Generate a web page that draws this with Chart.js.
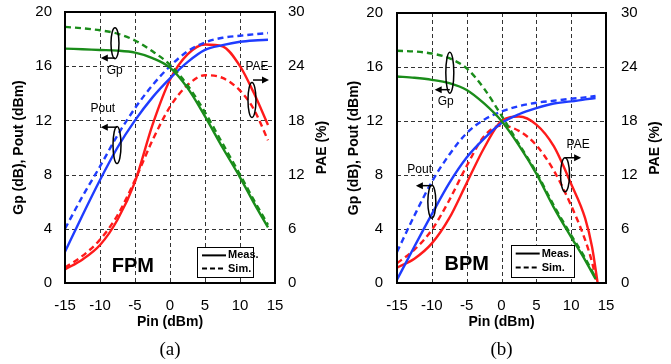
<!DOCTYPE html>
<html><head><meta charset="utf-8">
<script src="https://cdn.jsdelivr.net/npm/chart.js@4/dist/chart.umd.min.js"></script>
<style>
html,body{margin:0;padding:0;background:#fff;width:671px;height:364px;overflow:hidden}
#wa{position:absolute;left:0;top:0;width:335px;height:364px}
#wb{position:absolute;left:335px;top:0;width:336px;height:364px}
</style></head><body>
<div id="wa"><canvas id="ca" width="335" height="364"></canvas></div>
<div id="wb"><canvas id="cb" width="336" height="364"></canvas></div>
<script>
const FONT = "'Liberation Sans', Arial, Helvetica, sans-serif";
const NARROW = "'Liberation Sans Narrow', 'Arial Narrow', 'Liberation Sans', Arial, sans-serif";
const SERIF = "'Liberation Serif', 'Times New Roman', serif";
const GREEN = '#1a8c1a', BLUE = '#1f3cff', RED = '#ff1a1a';

// ---- Axis ticks ----
const pinTicks = [-15, -10, -5, 0, 5, 10, 15];
const leftTicks = [0, 4, 8, 12, 16, 20];
const rightTicks = [0, 6, 12, 18, 24, 30];

// ---- (a) FPM ----
const fpmPin     = [-15, -12.5, -10, -7.5, -5, -2.5, 0, 2.5, 5, 7.5, 10, 12, 14];
const fpmGpMeas  = [17.3, 17.25, 17.2, 17.15, 17.0, 16.6, 15.9, 14.4, 12.3, 10.0, 7.8, 5.9, 4.1];
const fpmGpSim   = [18.9, 18.8, 18.65, 18.4, 17.9, 17.1, 16.1, 14.6, 12.6, 10.3, 8.0, 6.1, 4.3];
const fpmPoutMeas= [2.3, 5.0, 7.6, 10.0, 12.0, 13.7, 15.1, 16.3, 17.2, 17.55, 17.8, 17.9, 17.95];
const fpmPoutSim = [4.0, 6.4, 8.6, 10.9, 12.9, 14.6, 16.0, 17.1, 17.75, 18.1, 18.25, 18.35, 18.45];
const fpmPaeMeas = [1.5, 2.6, 4.2, 7.0, 11.2, 17.5, 22.5, 25.3, 26.4, 26.2, 24.0, 21.0, 17.5];
const fpmPaeSim  = [1.7, 3.0, 4.8, 7.5, 11.4, 15.8, 19.5, 21.9, 23.0, 22.7, 21.3, 19.2, 15.8];

// ---- (b) BPM ----
const bpmPin      = [-15, -12.5, -10, -7.5, -5, -2.5, 0, 2.5, 5, 7.5, 10, 12, 13.5];
const bpmGpMeas   = [15.3, 15.2, 15.05, 14.8, 14.3, 13.3, 12.0, 10.2, 8.1, 5.6, 3.4, 1.7, 0.3];
const bpmGpSim    = [17.2, 17.15, 17.0, 16.65, 15.9, 14.4, 12.4, 10.3, 8.2, 5.75, 3.55, 1.85, 0.4];
const bpmPoutMeas = [0.25, 2.7, 5.1, 7.4, 9.3, 10.7, 11.85, 12.5, 12.95, 13.3, 13.45, 13.6, 13.7];
const bpmPoutSim  = [2.3, 5.0, 7.5, 9.5, 11.1, 12.1, 12.7, 13.1, 13.35, 13.5, 13.65, 13.75, 13.85];
const bpmPaePin   = [-15, -12.5, -10, -7.5, -5, -2.5, 0, 2.5, 5, 7.5, 10, 12, 13, 13.8];
const bpmPaeMeas  = [1.7, 2.7, 4.4, 7.2, 11.1, 15.0, 18.0, 18.5, 17.6, 15.2, 11.0, 7.2, 4.0, 0];
const bpmPaeSimPin= [-15, -12.5, -10, -7.5, -5, -2.5, 0, 2.5, 5, 7.5, 10, 12, 13, 13.7];
const bpmPaeSim   = [2.2, 3.7, 5.9, 9.2, 13.0, 16.3, 17.5, 16.9, 15.3, 12.5, 8.6, 4.8, 2.3, 0];

function pts(xs, ys) { return xs.map((x, i) => ({x: x, y: ys[i]})); }
function ds(label, xs, ys, color, dashed, axis) {
  return {
    label: label, data: pts(xs, ys), borderColor: color, backgroundColor: color,
    borderWidth: 2.4, borderDash: dashed ? [6, 4] : [], pointRadius: 0,
    cubicInterpolationMode: 'monotone', yAxisID: axis, fill: false
  };
}

const decor = {
  id: 'decor',
  beforeDatasetsDraw(chart) {
    const c = chart.ctx, a = chart.chartArea, sx = chart.scales.x, sy = chart.scales.y;
    c.save();
    c.strokeStyle = '#333'; c.lineWidth = 1; c.setLineDash([4, 3]);
    sx.ticks.forEach(t => {
      if (t.value <= sx.min || t.value >= sx.max) return;
      const p = Math.round(sx.getPixelForValue(t.value)) + 0.5;
      c.beginPath(); c.moveTo(p, a.top); c.lineTo(p, a.bottom); c.stroke();
    });
    sy.ticks.forEach(t => {
      if (t.value <= sy.min || t.value >= sy.max) return;
      const p = Math.round(sy.getPixelForValue(t.value)) + 0.5;
      c.beginPath(); c.moveTo(a.left, p); c.lineTo(a.right, p); c.stroke();
    });
    c.restore();
  },
  afterDatasetsDraw(chart, args, o) {
    const c = chart.ctx, a = chart.chartArea, sx = chart.scales.x, sy = chart.scales.y;
    const X = v => sx.getPixelForValue(v), Y = v => sy.getPixelForValue(v);
    c.save();
    // plot border
    c.strokeStyle = '#000'; c.lineWidth = 2; c.setLineDash([]);
    c.strokeRect(a.left, a.top, a.right - a.left, a.bottom - a.top);
    // ellipses and arrows
    c.lineWidth = 1.5;
    o.notes.forEach(n => {
      c.beginPath();
      c.ellipse(X(n.ex), Y(n.ey), n.w / 2, n.h / 2, 0, 0, Math.PI * 2);
      c.stroke();
      const x1 = X(n.ax1), x2 = X(n.ax2), y = Y(n.ay);
      c.beginPath(); c.moveTo(x1, y); c.lineTo(x2, y); c.stroke();
      const d = x2 > x1 ? 1 : -1;
      c.beginPath(); c.moveTo(x2 + d * 2, y); c.lineTo(x2 - d * 5, y - 3.5); c.lineTo(x2 - d * 5, y + 3.5); c.closePath();
      c.fillStyle = '#000'; c.fill();
      c.font = '12px ' + FONT; c.textAlign = 'center'; c.textBaseline = 'middle';
      c.fillText(n.text, X(n.tx), Y(n.ty));
    });
    // mode label
    c.font = 'bold 20px ' + FONT; c.textAlign = 'center'; c.textBaseline = 'middle';
    c.fillText(o.mode, X(o.modeX), Y(o.modeY));
    // legend box
    const L = o.leg, bx0 = X(L.x0), bx1 = X(L.x1), by0 = Y(L.y1), by1 = Y(L.y0);
    c.fillStyle = '#fff'; c.fillRect(bx0, by0, bx1 - bx0, by1 - by0);
    c.strokeStyle = '#000'; c.lineWidth = 1;
    c.strokeRect(Math.round(bx0) + 0.5, Math.round(by0) + 0.5, Math.round(bx1 - bx0), Math.round(by1 - by0));
    const r1 = by0 + (by1 - by0) * 0.28, r2 = by0 + (by1 - by0) * 0.72;
    c.lineWidth = 2;
    c.beginPath(); c.moveTo(bx0 + 5, r1); c.lineTo(bx0 + L.lw, r1); c.stroke();
    c.setLineDash([5, 3]);
    c.beginPath(); c.moveTo(bx0 + 5, r2); c.lineTo(bx0 + L.lw, r2); c.stroke();
    c.setLineDash([]);
    c.fillStyle = '#000'; c.font = 'bold 11px ' + NARROW; c.textAlign = 'left';
    c.fillText('Meas.', bx0 + L.lw + 2, r1);
    c.fillText('Sim.', bx0 + L.lw + 2, r2);
    // right axis title (reads bottom to top)
    c.save();
    c.translate(o.rtX, (a.top + a.bottom) / 2);
    c.rotate(-Math.PI / 2);
    c.font = 'bold 14px ' + FONT; c.textAlign = 'center'; c.textBaseline = 'middle';
    c.fillText('PAE (%)', 0, 0);
    c.restore();
    // caption
    c.font = '19px ' + SERIF; c.textAlign = 'center'; c.textBaseline = 'middle';
    c.fillText(o.caption, (a.left + a.right) / 2, o.capY);
    c.restore();
  }
};

function makeChart(id, d) {
  return new Chart(document.getElementById(id), {
    type: 'line',
    data: { datasets: [
      ds('Gp Meas.', d.gpX, d.gpMeas, GREEN, false, 'y'),
      ds('Gp Sim.', d.gpX, d.gpSim, GREEN, true, 'y'),
      ds('Pout Meas.', d.poX, d.poMeas, BLUE, false, 'y'),
      ds('Pout Sim.', d.poX, d.poSim, BLUE, true, 'y'),
      ds('PAE Meas.', d.paeX, d.paeMeas, RED, false, 'y1'),
      ds('PAE Sim.', d.paeSimX, d.paeSim, RED, true, 'y1')
    ]},
    options: {
      responsive: false, animation: false, devicePixelRatio: 1,
      layout: { padding: { top: d.top, left: 0, right: 0, bottom: 0 } },
      plugins: { legend: { display: false }, tooltip: { enabled: false }, decor: d.decor },
      scales: {
        x: {
          type: 'linear', min: -15, max: 15,
          afterBuildTicks: s => { s.ticks = pinTicks.map(v => ({value: v})); },
          grid: { display: false, drawTicks: false }, border: { display: false },
          ticks: { padding: 14, color: '#000', font: { family: FONT, size: 15 }, maxRotation: 0 },
          title: { display: true, text: 'Pin (dBm)', color: '#000', font: { family: FONT, size: 14, weight: 'bold' }, padding: { top: 0, bottom: 33.6 } },
          afterFit: s => { s.height = d.bottomH; s.paddingLeft = 0; s.paddingRight = 0; }
        },
        y: {
          position: 'left', min: 0, max: 20,
          afterBuildTicks: s => { s.ticks = leftTicks.map(v => ({value: v})); },
          grid: { display: false, drawTicks: false }, border: { display: false },
          ticks: { padding: d.yPad, color: '#000', font: { family: FONT, size: 15 } },
          title: { display: true, text: 'Gp (dB), Pout (dBm)', color: '#000', font: { family: FONT, size: 14, weight: 'bold' }, padding: { top: d.ytPad, bottom: 0 } },
          afterFit: s => { s.width = d.leftW; s.paddingTop = 0; s.paddingBottom = 0; }
        },
        y1: {
          position: 'right', min: 0, max: 30,
          afterBuildTicks: s => { s.ticks = rightTicks.map(v => ({value: v})); },
          grid: { display: false, drawTicks: false }, border: { display: false },
          ticks: { padding: d.y1Pad, color: '#000', font: { family: FONT, size: 15 } },
          afterFit: s => { s.width = d.rightW; s.paddingTop = 0; s.paddingBottom = 0; }
        }
      }
    },
    plugins: [decor]
  });
}

makeChart('ca', {
  gpX: fpmPin, gpMeas: fpmGpMeas, gpSim: fpmGpSim,
  poX: fpmPin, poMeas: fpmPoutMeas, poSim: fpmPoutSim,
  paeX: fpmPin, paeMeas: fpmPaeMeas, paeSimX: fpmPin, paeSim: fpmPaeSim,
  top: 12, bottomH: 81, leftW: 65, rightW: 60, yPad: 13, y1Pad: 13, ytPad: 10.6,
  decor: {
    mode: 'FPM', modeX: -5.3, modeY: 1.2, caption: '(a)', capY: 350, rtX: 322,
    leg: { x0: 3.86, x1: 11.86, y0: 0.44, y1: 2.66, lw: 29 },
    notes: [
      { ex: -7.86, ey: 17.7, w: 8, h: 31, ax1: -7.86, ax2: -9.6, ay: 16.6, text: 'Gp', tx: -7.9, ty: 15.65 },
      { ex: -7.57, ey: 10.18, w: 8, h: 37, ax1: -7.57, ax2: -9.6, ay: 11.5, text: 'Pout', tx: -9.6, ty: 12.9 },
      { ex: 11.71, ey: 13.5, w: 8, h: 35, ax1: 11.86, ax2: 13.86, ay: 14.98, text: 'PAE', tx: 12.43, ty: 15.94 }
    ]
  }
});

makeChart('cb', {
  gpX: bpmPin, gpMeas: bpmGpMeas, gpSim: bpmGpSim,
  poX: bpmPin, poMeas: bpmPoutMeas, poSim: bpmPoutSim,
  paeX: bpmPaePin, paeMeas: bpmPaeMeas, paeSimX: bpmPaeSimPin, paeSim: bpmPaeSim,
  top: 13, bottomH: 81, leftW: 62, rightW: 65, yPad: 14, y1Pad: 15, ytPad: 10.6,
  decor: {
    mode: 'BPM', modeX: -5.0, modeY: 1.36, caption: '(b)', capY: 350, rtX: 320.5,
    leg: { x0: 1.32, x1: 10.43, y0: 0.49, y1: 2.84, lw: 29 },
    notes: [
      { ex: -7.42, ey: 15.58, w: 8, h: 41, ax1: -7.42, ax2: -9.3, ay: 14.32, text: 'Gp', tx: -8.0, ty: 13.43 },
      { ex: -10.0, ey: 6.02, w: 8, h: 33, ax1: -10.0, ax2: -12.0, ay: 7.21, text: 'Pout', tx: -11.75, ty: 8.39 },
      { ex: 9.12, ey: 8.02, w: 9, h: 34, ax1: 9.12, ax2: 11.14, ay: 9.28, text: 'PAE', tx: 11.0, ty: 10.24 }
    ]
  }
});
</script>
</body></html>
